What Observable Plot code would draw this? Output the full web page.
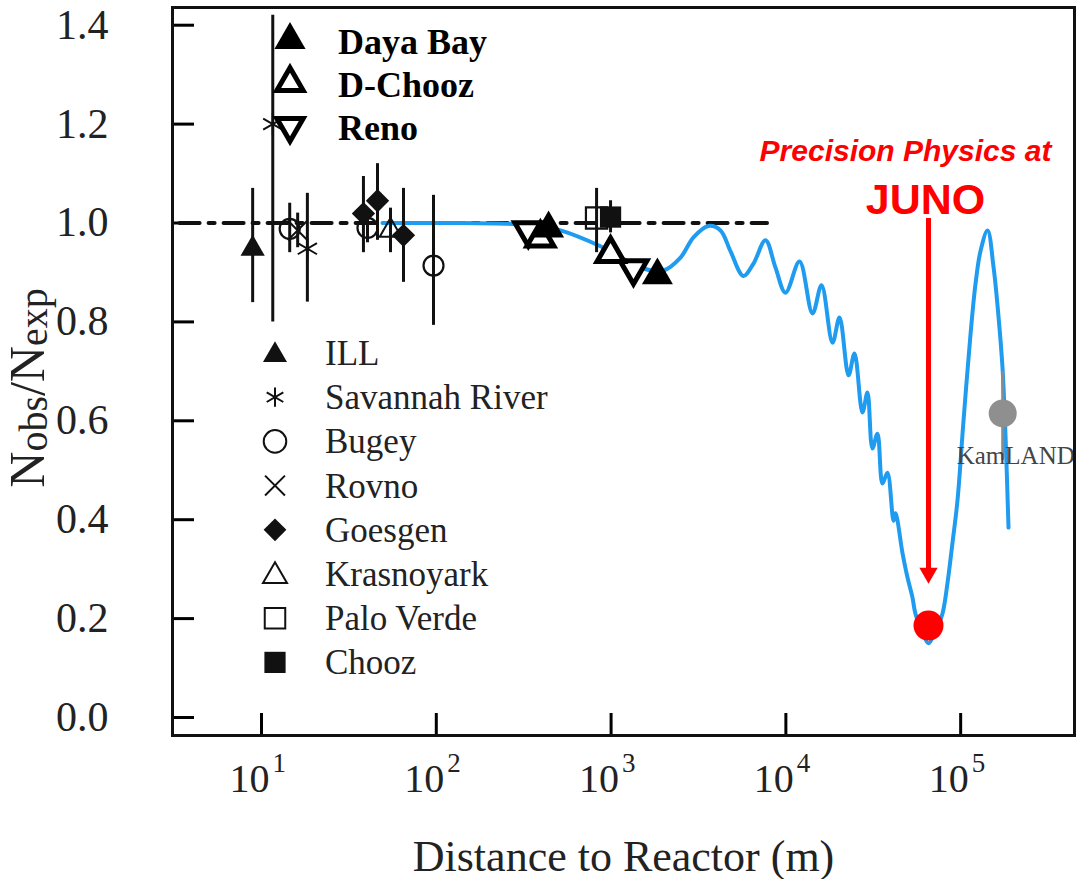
<!DOCTYPE html>
<html><head><meta charset="utf-8">
<script src="https://cdn.jsdelivr.net/npm/d3@7"></script>
<script src="https://cdn.jsdelivr.net/npm/@observablehq/plot@0.6"></script>
<style>body{margin:0;background:#fff} svg{display:block}</style>
</head><body><div id="chart"></div>
<script>
// ---------- data ----------
// oscillation curve (distance in m, Nobs/Nexp)
const curveL = [49.2,120,277,380,514,869,1531,1995,2495,2961,3606,4225,4819,5718,6527,7645,8717,9950,11970,14200,15990,18490,20270,22840,24690,27420,29290,31270,33420,35700,38100,41300,42400,46500,49650,52980,55100,60000,65400,72000,78700,84000,89700,95900,103800,114000,121700,130000,142500,154300,164800,173500,180400,187800];
const curveRatio = [1.0,1.0,0.998,0.994,0.985,0.953,0.908,0.904,0.930,0.971,0.994,0.985,0.943,0.893,0.918,0.965,0.910,0.859,0.922,0.817,0.874,0.758,0.809,0.692,0.736,0.617,0.657,0.544,0.574,0.473,0.495,0.398,0.413,0.332,0.283,0.243,0.210,0.176,0.150,0.175,0.21,0.271,0.352,0.439,0.60,0.777,0.878,0.944,0.985,0.910,0.809,0.708,0.574,0.384];
// no-oscillation reference line
const refL = [3.4, 7800];
const refRatio = [1, 1];

// past experiments
const illL = [8.9], illR = [0.948], illLo = [0.839], illHi = [1.07];
const srL = [11.6, 18.3], srR = [1.20, 0.948], srLo = [0.80, 0.84], srHi = [1.42, 1.06];
const bugeyL = [14.5, 40.4, 96.4], bugeyR = [0.988, 0.99, 0.914], bugeyLo = [0.94, 0.96, 0.793], bugeyHi = [1.04, 1.02, 1.056];
const rovnoL = [16.1], rovnoR = [0.985], rovnoLo = [0.95], rovnoHi = [1.02];
const goesgenL = [38.3, 46.1, 64.9], goesgenR = [1.019, 1.045, 0.975], goesgenLo = [0.94, 0.965, 0.88], goesgenHi = [1.094, 1.12, 1.07];
const krasL = [54.7], krasR = [0.985], krasLo = [0.94], krasHi = [1.03];
const pvL = [826], pvR = [1.01], pvLo = [0.94], pvHi = [1.07];
const choozL = [993], choozR = [1.012], choozLo = [0.98], choozHi = [1.045];
// new generation
const dayaL = [439, 1841], dayaR = [0.989, 0.894];
const dchoozL = [394, 993], dchoozR = [0.969, 0.938];
const renoL = [336, 1343], renoR = [0.985, 0.908];
// KamLAND, JUNO
const kamL = [174000], kamR = [0.615], kamLo = [0.52], kamHi = [0.70];
const junoL = [65460], junoR = [0.186];
const arrowTop = [1.009], arrowEnd = [0.30], arrowHead = [0.292];

const xTicks = [10, 100, 1000, 10000, 100000];
const xExp = ["1", "2", "3", "4", "5"];
const yTicks = [0, 0.2, 0.4, 0.6, 0.8, 1.0, 1.2, 1.4];

const legendNames = ["ILL", "Savannah River", "Bugey", "Rovno", "Goesgen", "Krasnoyark", "Palo Verde", "Chooz"];
const newNames = ["Daya Bay", "D-Chooz", "Reno"];

// ---------- helpers ----------
const zip = (L, R) => L.map((l, i) => ({L: l, r: R[i]}));
const bars = (L, lo, hi) => L.map((l, i) => ({L: l, lo: lo[i], hi: hi[i]}));
const triDown = {
  draw(ctx, size) {
    const y = -Math.sqrt(size / (3 * Math.sqrt(3)));
    ctx.moveTo(0, -2 * y);
    ctx.lineTo(-Math.sqrt(3) * y, y);
    ctx.lineTo(Math.sqrt(3) * y, y);
    ctx.closePath();
  }
};
const serif = "'Liberation Serif', 'Times New Roman', serif";
const allBars = [
  ...bars(illL, illLo, illHi), ...bars(srL, srLo, srHi), ...bars(bugeyL, bugeyLo, bugeyHi),
  ...bars(rovnoL, rovnoLo, rovnoHi), ...bars(goesgenL, goesgenLo, goesgenHi), ...bars(krasL, krasLo, krasHi),
  ...bars(pvL, pvLo, pvHi), ...bars(choozL, choozLo, choozHi)
];

const plot = Plot.plot({
  width: 1077, height: 879,
  marginLeft: 172, marginRight: 3, marginTop: 7, marginBottom: 144,
  style: {fontFamily: serif, background: "#fff", overflow: "visible"},
  x: {type: "log", domain: [3.096, 448000]},
  y: {domain: [-0.0364, 1.4358]},
  marks: [
    // axes (inward ticks)
    Plot.axisY({ticks: yTicks, tickSize: -22, tickPadding: 86, strokeWidth: 3, tickFormat: d3.format(".1f"), fontSize: 42, label: null, fill: "#222"}),
    Plot.axisX({ticks: xTicks, tickSize: -22, strokeWidth: 3, tickFormat: () => "", label: null}),
    Plot.text(xTicks, {x: d => d, frameAnchor: "bottom", dy: 56, dx: 8, text: () => "10", textAnchor: "end", fontSize: 40, fill: "#222"}),
    Plot.text(xTicks, {x: d => d, frameAnchor: "bottom", dy: 36, dx: 11, text: (d, i) => xExp[i], textAnchor: "start", fontSize: 27, fill: "#222"}),
    // reference line and oscillation curve
    Plot.line(zip(refL, refRatio), {x: "L", y: "r", stroke: "#111", strokeWidth: 4, strokeDasharray: "20,9,6,9"}),
    Plot.line(zip(curveL, curveRatio), {x: "L", y: "r", stroke: "#1f9cf0", strokeWidth: 4, curve: "catmull-rom"}),
    // error bars
    Plot.ruleX(allBars, {x: "L", y1: "lo", y2: "hi", stroke: "#111", strokeWidth: 3}),
    Plot.ruleX(bars(kamL, kamLo, kamHi), {x: "L", y1: "lo", y2: "hi", stroke: "#8a8a8a", strokeWidth: 3}),
    // old experiments
    Plot.dot(zip(illL, illR), {x: "L", y: "r", symbol: "triangle", r: 9, fill: "#111", stroke: "none"}),
    Plot.dot(zip(srL, srR), {x: "L", y: "r", symbol: "asterisk", r: 10.5, fill: "none", stroke: "#111", strokeWidth: 2}),
    Plot.dot(zip(bugeyL, bugeyR), {x: "L", y: "r", symbol: "circle", r: 10, fill: "none", stroke: "#111", strokeWidth: 2.2}),
    Plot.dot(zip(rovnoL, rovnoR), {x: "L", y: "r", symbol: "times", r: 9, fill: "none", stroke: "#111", strokeWidth: 2}),
    Plot.dot(zip(goesgenL, goesgenR), {x: "L", y: "r", symbol: "diamond2", r: 10.5, fill: "#111", stroke: "none"}),
    Plot.dot(zip(krasL, krasR), {x: "L", y: "r", symbol: "triangle", r: 8, fill: "none", stroke: "#111", strokeWidth: 2}),
    Plot.dot(zip(pvL, pvR), {x: "L", y: "r", symbol: "square", r: 12, fill: "none", stroke: "#111", strokeWidth: 2.2}),
    Plot.dot(zip(choozL, choozR), {x: "L", y: "r", symbol: "square", r: 12, fill: "#111", stroke: "none"}),
    // new experiments
    Plot.dot(zip(renoL, renoR), {x: "L", y: "r", symbol: triDown, r: 10, fill: "#fff", stroke: "#000", strokeWidth: 5}),
    Plot.dot(zip(dchoozL, dchoozR), {x: "L", y: "r", symbol: "triangle", r: 10, fill: "#fff", stroke: "#000", strokeWidth: 5}),
    Plot.dot(zip(dayaL, dayaR), {x: "L", y: "r", symbol: "triangle", r: 11.5, fill: "#000", stroke: "none"}),
    // KamLAND
    Plot.dot(zip(kamL, kamR), {x: "L", y: "r", r: 14, fill: "#8f8f8f"}),
    Plot.text(zip(kamL, kamR), {x: "L", y: "r", text: () => "KamLAND", dx: -46, dy: 43, textAnchor: "start", fontSize: 25, fill: "#444"}),
    // JUNO annotation
    Plot.ruleX(junoL.map((l, i) => ({L: l, a: arrowTop[i], b: arrowEnd[i]})), {x: "L", y1: "a", y2: "b", stroke: "#ff0000", strokeWidth: 5}),
    Plot.dot(zip(junoL, arrowHead), {x: "L", y: "r", symbol: triDown, r: 6.8, fill: "#ff0000"}),
    Plot.dot(zip(junoL, junoR), {x: "L", y: "r", r: 15, fill: "#ff0000"}),
    Plot.text(junoL, {x: d => d, y: 1.126, dx: -23, text: () => "Precision Physics at", fontFamily: "'Liberation Sans', Arial, sans-serif", fontWeight: "bold", fontStyle: "italic", fontSize: 30, fill: "#ff0000", lineAnchor: "bottom"}),
    Plot.text(junoL, {x: d => d, y: 1.019, dx: -3, text: () => "JUNO", fontFamily: "'Liberation Sans', Arial, sans-serif", fontWeight: "bold", fontSize: 43, fill: "#ff0000", lineAnchor: "bottom"}),
    // x-axis title
    Plot.text(["Distance to Reactor (m)"], {frameAnchor: "bottom", dy: 135, text: d => d, fontSize: 44, fill: "#222", lineAnchor: "bottom"}),
    Plot.frame({stroke: "#111", strokeWidth: 3})
  ]
});

const svg = d3.select(plot);

// y-axis title with subscripts
const yl = svg.append("text")
  .attr("transform", "translate(44,388) rotate(-90)")
  .attr("text-anchor", "middle")
  .style("font-family", serif).style("font-size", "50px").attr("fill", "#222");
yl.append("tspan").text("N");
yl.append("tspan").attr("font-size", "40px").attr("dy", 3).text("obs");
yl.append("tspan").attr("dy", -3).text("/N");
yl.append("tspan").attr("font-size", "40px").attr("dy", 3).text("exp");

// legend: old experiments
const legSyms = [
  {s: d3.symbolTriangle, size: 250, fill: "#111", stroke: "none"},
  {s: d3.symbolAsterisk, size: 260, fill: "none", stroke: "#111"},
  {s: d3.symbolCircle, size: 400, fill: "none", stroke: "#111"},
  {s: d3.symbolTimes, size: 260, fill: "none", stroke: "#111"},
  {s: d3.symbolDiamond2, size: 330, fill: "#111", stroke: "none"},
  {s: d3.symbolTriangle, size: 250, fill: "none", stroke: "#111"},
  {s: d3.symbolSquare, size: 420, fill: "none", stroke: "#111"},
  {s: d3.symbolSquare, size: 450, fill: "#111", stroke: "none"}
];
const leg = svg.append("g").attr("text-anchor", "start");
legendNames.forEach((name, i) => {
  const y = 353 + i * 44.2;
  const m = legSyms[i];
  leg.append("path").attr("d", d3.symbol(m.s, m.size)()).attr("transform", `translate(275,${y + (m.s === d3.symbolTriangle ? 2 : 0)})`)
    .attr("fill", m.fill).attr("stroke", m.stroke).attr("stroke-width", 2);
  leg.append("text").attr("x", 325).attr("y", y + 12).attr("text-anchor", "start").text(name)
    .style("font-family", serif).style("font-size", "35px").attr("fill", "#222");
});
// legend: new experiments
const newSyms = [
  {s: d3.symbolTriangle, fill: "#000", stroke: "none"},
  {s: d3.symbolTriangle, fill: "#fff", stroke: "#000"},
  {s: triDown, fill: "#fff", stroke: "#000"}
];
const leg2 = svg.append("g").attr("text-anchor", "start");
newNames.forEach((name, i) => {
  const y = 40 + i * 43;
  const m = newSyms[i];
  leg2.append("path").attr("d", d3.symbol(m.s, i === 0 ? 420 : 300)()).attr("transform", `translate(290,${y})`)
    .attr("fill", m.fill).attr("stroke", m.stroke).attr("stroke-width", 5);
  leg2.append("text").attr("x", 338).attr("y", y + 14).attr("text-anchor", "start").text(name)
    .style("font-family", serif).style("font-size", "36px").style("font-weight", "bold").attr("fill", "#000");
});

document.getElementById("chart").appendChild(plot);
</script>
</body></html>
